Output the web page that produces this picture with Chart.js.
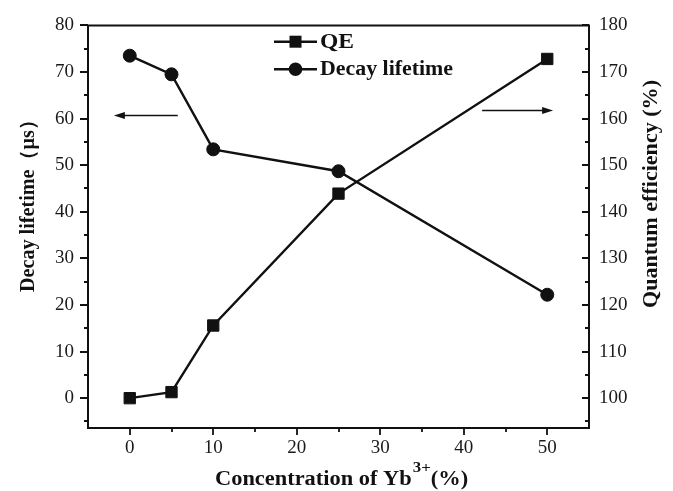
<!DOCTYPE html>
<html><head><meta charset="utf-8">
<script src="https://cdn.jsdelivr.net/npm/chart.js@4/dist/chart.umd.min.js"></script>
<style>html,body{margin:0;padding:0;background:#fff;}canvas{display:block;}</style>
</head><body>
<canvas id="c" width="673" height="491"></canvas>
<script>
// ---- data ----
const concentration = [0, 5, 10, 25, 50];
const qeValues = [100, 101.3, 115.6, 143.9, 172.8];
const decayValues = [73.5, 69.5, 53.4, 48.7, 22.2];
const xTicks = [0, 10, 20, 30, 40, 50];
const xMinorTicks = [5, 15, 25, 35, 45];
const yLeftTicks = [0, 10, 20, 30, 40, 50, 60, 70, 80];
const yLeftMinorTicks = [-5, 5, 15, 25, 35, 45, 55, 65, 75];
const yRightTicks = [100, 110, 120, 130, 140, 150, 160, 170, 180];
const yRightMinorTicks = [95, 105, 115, 125, 135, 145, 155, 165, 175];
const seriesNames = ['QE', 'Decay lifetime'];
const xTitle = ['Concentration of Yb', '3+', '(%)'];
const yLeftTitle = 'Decay lifetime\uFF08\u03BCs\uFF09';
const yRightTitle = 'Quantum efficiency (%)';
// arrows (data coords on left axis): [xFrom, xTo, y]
const leftArrow = [5.75, -1.9, 60.8];
const rightArrow = [42.2, 50.7, 61.9];

const FONT = '"Liberation Serif", "Times New Roman", serif';
const INK = '#111';

function fitText(ctx, text, x, y, font, target, align, rot) {
  ctx.save();
  ctx.font = font;
  const w = ctx.measureText(text).width;
  const s = target ? target / w : 1;
  ctx.translate(x, y);
  if (rot) ctx.rotate(rot);
  ctx.scale(s, 1);
  ctx.textAlign = align || 'left';
  ctx.fillText(text, 0, 0);
  ctx.restore();
  return w * s;
}

const decor = {
  id: 'decor',
  afterDraw(chart) {
    const ctx = chart.ctx, ca = chart.chartArea;
    const xs = chart.scales.x, yl = chart.scales.y, yr = chart.scales.y2;
    ctx.save();
    ctx.strokeStyle = INK; ctx.fillStyle = INK; ctx.lineWidth = 2;
    // frame
    ctx.beginPath();
    ctx.moveTo(ca.left, ca.bottom); ctx.lineTo(ca.left, ca.top);
    ctx.lineTo(ca.right, ca.top); ctx.lineTo(ca.right, ca.bottom);
    ctx.lineTo(ca.left, ca.bottom);
    ctx.closePath(); ctx.stroke();
    // ticks
    ctx.lineWidth = 1.8;
    ctx.beginPath();
    xTicks.forEach(v => { const p = Math.round(xs.getPixelForValue(v)); ctx.moveTo(p, ca.bottom); ctx.lineTo(p, ca.bottom + 7); });
    xMinorTicks.forEach(v => { const p = Math.round(xs.getPixelForValue(v)); ctx.moveTo(p, ca.bottom); ctx.lineTo(p, ca.bottom + 4); });
    yLeftTicks.forEach(v => { const p = Math.round(yl.getPixelForValue(v)); ctx.moveTo(ca.left, p); ctx.lineTo(ca.left - 8, p); });
    yLeftMinorTicks.forEach(v => { const p = Math.round(yl.getPixelForValue(v)); ctx.moveTo(ca.left, p); ctx.lineTo(ca.left - 4, p); });
    yRightTicks.forEach(v => { const p = Math.round(yr.getPixelForValue(v)); ctx.moveTo(ca.right, p); ctx.lineTo(ca.right - 7, p); });
    yRightMinorTicks.forEach(v => { const p = Math.round(yr.getPixelForValue(v)); ctx.moveTo(ca.right, p); ctx.lineTo(ca.right - 4, p); });
    ctx.stroke();
    // arrows
    function arrow(a) {
      const x1 = xs.getPixelForValue(a[0]), x2 = xs.getPixelForValue(a[1]), y = Math.round(yl.getPixelForValue(a[2])) + 0.5;
      const dir = Math.sign(x2 - x1);
      ctx.lineWidth = 1.6;
      ctx.beginPath(); ctx.moveTo(x1, y); ctx.lineTo(x2 - dir * 6, y); ctx.stroke();
      ctx.beginPath(); ctx.moveTo(x2, y); ctx.lineTo(x2 - dir * 11, y - 3.4); ctx.lineTo(x2 - dir * 11, y + 3.4); ctx.closePath(); ctx.fill();
    }
    arrow(leftArrow); arrow(rightArrow);
    // legend
    const lx0 = 274, lx1 = 317, lm = 295.5, rows = [41.7, 69.3];
    ctx.lineWidth = 2.4;
    rows.forEach((ry, i) => {
      ctx.beginPath(); ctx.moveTo(lx0, ry); ctx.lineTo(lx1, ry); ctx.stroke();
      ctx.beginPath();
      if (i === 0) ctx.rect(lm - 6, ry - 6, 12, 12);
      else ctx.arc(lm, ry, 6.8, 0, Math.PI * 2);
      ctx.fill();
    });
    ctx.textBaseline = 'middle';
    fitText(ctx, seriesNames[0], 320, rows[0] + 1, 'bold 20px ' + FONT, 34, 'left');
    fitText(ctx, seriesNames[1], 320, rows[1] + 1, 'bold 20px ' + FONT, 133, 'left');
    // axis titles
    fitText(ctx, yLeftTitle, 29, 201, 'bold 20px ' + FONT, 182, 'center', -Math.PI / 2);
    fitText(ctx, yRightTitle, 652, 194, 'bold 20px ' + FONT, 228, 'center', -Math.PI / 2);
    // bottom title with superscript
    ctx.textBaseline = 'alphabetic';
    const fMain = 'bold 20px ' + FONT, fSup = 'bold 15px ' + FONT;
    ctx.font = fMain; const w1 = ctx.measureText(xTitle[0]).width, w3 = ctx.measureText(xTitle[2]).width;
    ctx.font = fSup; const w2 = ctx.measureText(xTitle[1]).width;
    const total = w1 + w2 + w3, target = 252, s = target / total;
    const cx = 341, by = 485;
    ctx.save();
    ctx.translate(cx - target / 2, by); ctx.scale(s, 1);
    ctx.textAlign = 'left';
    ctx.font = fMain; ctx.fillText(xTitle[0], 0, 0);
    ctx.font = fSup; ctx.fillText(xTitle[1], w1 + 1, -13);
    ctx.font = fMain; ctx.fillText(xTitle[2], w1 + w2 + 1, 0);
    ctx.restore();
    ctx.restore();
  }
};

const setTicks = arr => scale => { scale.ticks = arr.map(v => ({ value: v })); };

new Chart(document.getElementById('c'), {
  type: 'line',
  data: {
    datasets: [
      {
        label: seriesNames[0],
        data: concentration.map((c, i) => ({ x: c, y: qeValues[i] })),
        yAxisID: 'y2',
        borderColor: INK, backgroundColor: INK, borderWidth: 2.4,
        pointStyle: 'rect', pointRadius: 8, pointBorderWidth: 1, pointHoverRadius: 8,
        tension: 0
      },
      {
        label: seriesNames[1],
        data: concentration.map((c, i) => ({ x: c, y: decayValues[i] })),
        yAxisID: 'y',
        borderColor: INK, backgroundColor: INK, borderWidth: 2.4,
        pointStyle: 'circle', pointRadius: 6.5, pointBorderWidth: 1, pointHoverRadius: 6.5,
        tension: 0
      }
    ]
  },
  options: {
    responsive: false,
    devicePixelRatio: 1,
    animation: false,
    events: [],
    layout: { padding: { top: 16, left: 0, right: 0, bottom: 0 } },
    plugins: { legend: { display: false }, tooltip: { enabled: false } },
    scales: {
      x: {
        type: 'linear', position: 'bottom', min: -5, max: 55,
        afterBuildTicks: setTicks(xTicks),
        afterFit: s => { s.height = 63; },
        grid: { display: false, drawTicks: false },
        border: { display: false },
        ticks: { padding: 9, color: '#1a1a1a', font: { family: FONT, size: 19 }, maxRotation: 0 }
      },
      y: {
        type: 'linear', position: 'left', min: -6.4, max: 80,
        afterBuildTicks: setTicks(yLeftTicks),
        afterFit: s => { s.width = 88; },
        grid: { display: false, drawTicks: false },
        border: { display: false },
        ticks: { padding: 14, color: '#1a1a1a', font: { family: FONT, size: 19 } }
      },
      y2: {
        type: 'linear', position: 'right', min: 93.6, max: 180,
        afterBuildTicks: setTicks(yRightTicks),
        afterFit: s => { s.width = 84; },
        grid: { display: false, drawTicks: false },
        border: { display: false },
        ticks: { padding: 10, color: '#1a1a1a', font: { family: FONT, size: 19 } }
      }
    }
  },
  plugins: [decor]
});
</script>
</body></html>
